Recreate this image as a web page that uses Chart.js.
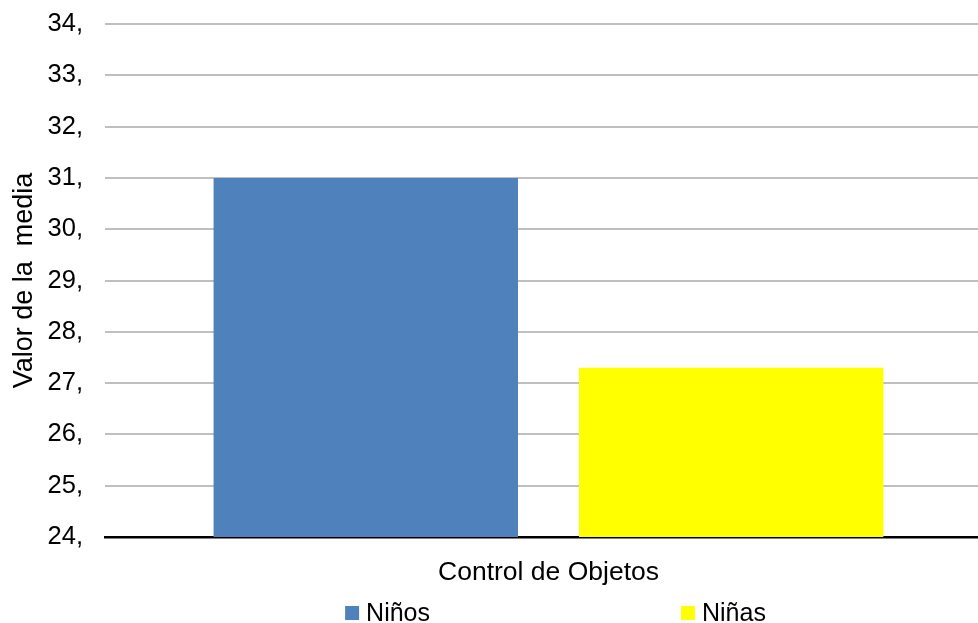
<!DOCTYPE html>
<html>
<head>
<meta charset="utf-8">
<script src="https://cdn.jsdelivr.net/npm/chart.js@4/dist/chart.umd.min.js"></script>
<style>
  html, body { margin: 0; padding: 0; background: #ffffff; overflow: hidden; }
  #wrap { position: relative; width: 992px; height: 623px; }
</style>
</head>
<body>
<div id="wrap"><canvas id="c"></canvas></div>
<script>
const categories = ["Control de Objetos"];
const seriesNames = ["Niños", "Niñas"];
const ninosValues = [31.0];
const ninasValues = [27.3];
const seriesColors = ["#4f81bd", "#ffff00"];
const yMin = 24, yMax = 34, yStep = 1;
const yTitle = "Valor de la  media";

const FONT = "'Liberation Sans', Arial, sans-serif";

const customLegend = {
  id: 'customLegend',
  afterDraw(chart) {
    const ctx = chart.ctx;
    const ca = chart.chartArea;
    const size = 25;
    const box = 14;
    const gap = 251;
    ctx.save();
    ctx.font = size + "px " + FONT;
    ctx.textBaseline = 'middle';
    ctx.textAlign = 'left';
    const items = chart.data.datasets.map(ds => {
      const w = box + 7 + ctx.measureText(ds.label).width;
      return { label: ds.label, color: ds.backgroundColor, w };
    });
    const total = items.reduce((s, it) => s + it.w, 0) + gap * (items.length - 1);
    let x = (ca.left + ca.right) / 2 + 7 - total / 2;
    const yc = 613;
    items.forEach(it => {
      ctx.fillStyle = it.color;
      ctx.fillRect(x, yc - box / 2, box, box);
      ctx.fillStyle = '#000000';
      ctx.fillText(it.label, x + box + 7, yc + 1);
      x += it.w + gap;
    });
    ctx.restore();
  }
};

new Chart(document.getElementById('c'), {
  type: 'bar',
  data: {
    labels: categories,
    datasets: [
      { label: seriesNames[0], data: ninosValues, backgroundColor: seriesColors[0], borderWidth: 0 },
      { label: seriesNames[1], data: ninasValues, backgroundColor: seriesColors[1], borderWidth: 0 }
    ]
  },
  options: {
    responsive: true,
    maintainAspectRatio: false,
    animation: false,
    devicePixelRatio: 1,
    layout: { padding: { top: 24, right: 0, bottom: 36, left: 0 } },
    datasets: { bar: { categoryPercentage: 0.824, barPercentage: 0.833 } },
    plugins: {
      legend: { display: false },
      tooltip: { enabled: false }
    },
    scales: {
      x: {
        grid: { display: false, drawTicks: false },
        border: { display: true, color: '#000000', width: 2.5 },
        ticks: { color: '#000000', font: { family: FONT, size: 26.5 }, padding: 20 },
        afterFit(scale) { scale.height = 50; scale.paddingLeft = 0; scale.paddingRight = 0; }
      },
      y: {
        min: yMin,
        max: yMax,
        ticks: {
          stepSize: yStep,
          color: '#000000',
          font: { family: FONT, size: 25.5 },
          padding: 22,
          callback: v => v + ","
        },
        grid: { color: '#bfbfbf', lineWidth: 2, drawTicks: false },
        border: { display: false },
        title: {
          display: true,
          text: yTitle,
          color: '#000000',
          font: { family: FONT, size: 27 },
          padding: { top: 8, bottom: 0 }
        },
        afterFit(scale) { scale.width = 105; scale.paddingTop = 0; scale.paddingBottom = 0; }
      }
    }
  },
  plugins: [customLegend]
});
</script>
</body>
</html>
